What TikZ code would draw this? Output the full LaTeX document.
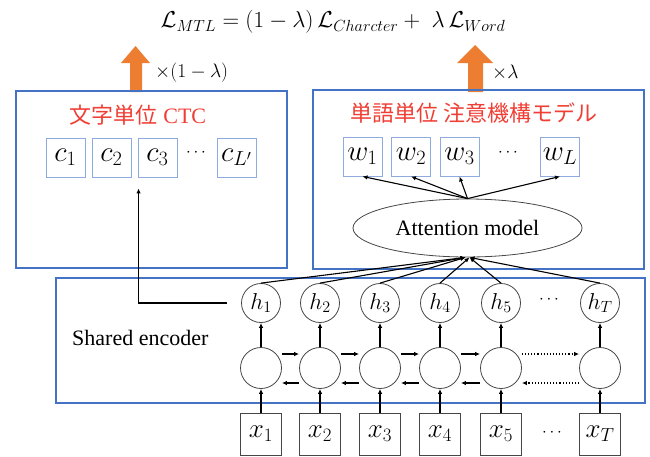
\documentclass[tikz,border=0pt]{standalone}
\usepackage{fix-cm}
\usepackage{fontspec}
\setmainfont{Liberation Serif}
\newfontfamily\jp{Noto Sans CJK JP}
\usetikzlibrary{arrows.meta,shapes.geometric,calc}
\definecolor{bbox}{HTML}{4472C4}
\definecolor{lbox}{HTML}{8FAADC}
\definecolor{orng}{HTML}{ED7D31}
\definecolor{ttl}{RGB}{240,62,52}
\definecolor{gline}{RGB}{70,70,70}
\begin{document}
\begin{tikzpicture}[x=1pt,y=-1pt,
  bigbox/.style={draw=bbox,line width=2.6pt},
  smallbox/.style={draw=lbox,line width=0.9pt,minimum width=39pt,minimum height=39pt,inner sep=0pt,font=\fontsize{29}{32}\selectfont},
  xbox/.style={draw=gline,line width=0.9pt,minimum width=41pt,minimum height=42pt,inner sep=0pt,font=\fontsize{27}{30}\selectfont},
  hnode/.style={circle,draw=gline,line width=0.8pt,minimum size=39pt,inner sep=0pt,font=\fontsize{23}{26}\selectfont},
  rnode/.style={circle,draw=gline,line width=0.8pt,minimum size=41pt,inner sep=0pt},
  dotsnode/.style={inner sep=0pt,font=\fontsize{17}{20}\selectfont},
  title/.style={text=ttl,font=\fontsize{22}{26}\selectfont,inner sep=0pt},
  conn/.style={draw=black,line width=1.1pt,-{Latex[length=5pt,width=4.5pt]}},
  orarrow/.style={fill=orng,draw=none}
]
\useasboundingbox (0,0) rectangle (650,456);

% formula
\node[inner sep=0pt,font=\fontsize{23}{27}\selectfont] (formula) at (333,22)
  {$\mathcal{L}_{MTL} = (1-\lambda)\,\mathcal{L}_{Charcter} + \;\lambda\,\mathcal{L}_{Word}$};

% orange arrows
\fill[orarrow] (130,92) -- (130,63) -- (121,63) -- (135.5,46) -- (150,63) -- (142,63) -- (142,92) -- cycle;
\fill[orarrow] (468,92) -- (468,63) -- (457,63) -- (475,45) -- (493,63) -- (483,63) -- (483,92) -- cycle;
\node[anchor=west,inner sep=0pt,font=\fontsize{19.5}{22}\selectfont] (lab1) at (155,73) {$\times(1-\lambda)$};
\node[anchor=west,inner sep=0pt,font=\fontsize{19.5}{22}\selectfont] (lab2) at (492,73) {$\times\lambda$};

% big boxes
\node[bigbox,minimum width=271pt,minimum height=177pt,inner sep=0pt] (ctcbox) at (151.5,179.5) {};
\node[bigbox,minimum width=331pt,minimum height=179pt,inner sep=0pt] (attbox) at (478.5,179.5) {};
\node[bigbox,minimum width=589pt,minimum height=125pt,inner sep=0pt] (encbox) at (350.5,340.5) {};

% titles
\node[title] (t1) at (138,115) {{\jp 文字単位} CTC};
\node[title] (t2) at (474,113) {{\jp 単語単位 注意機構モデル}};

% c boxes
\node[smallbox] (c1) at (65.5,157.5) {$c_1$};
\node[smallbox] (c2) at (111.5,157.5) {$c_2$};
\node[smallbox] (c3) at (157.5,157.5) {$c_3$};
\node[dotsnode] (cd) at (196,153) {$\cdots$};
\node[smallbox] (cL) at (236.5,157.5) {$c_{L'}$};

% w boxes
\node[smallbox] (w1) at (362.5,156.5) {$w_1$};
\node[smallbox] (w2) at (411,156.5) {$w_2$};
\node[smallbox] (w3) at (459.5,156.5) {$w_3$};
\node[dotsnode] (wd) at (508,153) {$\cdots$};
\node[smallbox] (wL) at (560,156.5) {$w_L$};

% attention ellipse
\node[ellipse,draw=gline,line width=0.8pt,minimum width=229pt,minimum height=58pt,inner sep=0pt,font=\fontsize{22}{26}\selectfont] (att) at (467.5,228) {Attention model};

% encoder
\node[anchor=west,inner sep=0pt,font=\fontsize{22}{26}\selectfont] (enc) at (72,338) {Shared encoder};

\foreach \i/\x/\s in {1/261/1,2/320/2,3/380/3,4/440/4,5/501/5,T/600/T}{
  \node[hnode] (h\i) at (\x,303) {$h_{\s}$};
  \node[rnode] (r\i) at (\x,368) {};
  \node[xbox] (x\i) at (\x,434) {$x_{\s}$};
  \draw[conn] (x\i.north) -- (r\i.south);
  \draw[conn] (r\i.north) -- (h\i.south);
}
\node[dotsnode] (hd) at (549,300) {$\cdots$};
\node[dotsnode] (xd) at (552,433) {$\cdots$};

% recurrent arrows (forward on top, backward below)
\foreach \a/\b in {1/2,2/3,3/4,4/5}{
  \draw[conn] ([yshift=14pt]r\a.east) -- ([yshift=14pt]r\b.west);
  \draw[conn] ([yshift=-15pt]r\b.west) -- ([yshift=-15pt]r\a.east);
}
\draw[conn,dotted] ([yshift=14pt]r5.east) -- ([yshift=14pt]rT.west);
\draw[conn,dotted] ([yshift=-15pt]rT.west) -- ([yshift=-15pt]r5.east);

% attention inputs
\foreach \i in {1,2,3}{
  \draw[conn] (h\i.north) -- ([xshift=-2pt]att.south);
}
\foreach \i in {4,5,T}{
  \draw[conn] (h\i.north) -- ([xshift=2pt]att.south);
}
% attention outputs
\foreach \w in {w1,w2,w3,wL}{
  \draw[conn] (att.north) -- (\w.south);
}

% CTC connection
\draw[conn,shorten <=14pt,shorten >=11pt] (h1.west) -| ([xshift=1pt]c3.south west);

\end{tikzpicture}
\end{document}
